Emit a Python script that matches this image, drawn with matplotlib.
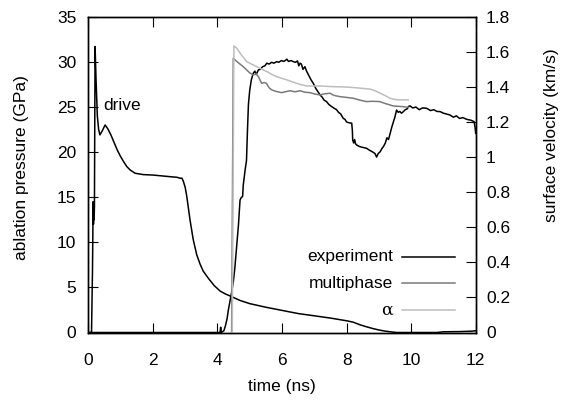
import matplotlib
matplotlib.use("Agg")
import matplotlib.pyplot as plt

plt.rcParams['font.family'] = ['Liberation Sans', 'DejaVu Sans']

# ablation pressure drive (GPa)
t_drive = [0.0, 0.1, 0.13, 0.15, 0.16, 0.17, 0.18, 0.19, 0.21, 0.24, 0.28, 0.32, 0.36,
           0.44, 0.52, 0.6, 0.7, 0.77, 0.9, 1.0, 1.1, 1.19, 1.3, 1.45, 1.7, 2.0, 2.3,
           2.53, 2.75, 2.84, 2.9, 2.94, 3.0, 3.05, 3.1, 3.15, 3.25, 3.36, 3.46, 3.56,
           3.72, 3.9, 4.08, 4.23, 4.44, 4.7, 5.0, 5.5, 6.0, 6.5, 7.0, 7.5, 8.0, 8.2, 8.42,
           8.6, 8.8, 9.0, 9.2, 9.4, 9.55, 10.0, 10.5, 10.8, 11.0, 11.5, 11.9, 12.0]
p_drive = [0.0, 0.0, 7.0, 14.5, 12.0, 13.5, 12.5, 14.0, 31.7, 28.0, 24.0, 22.5, 21.9,
           22.4, 23.0, 22.6, 21.9, 21.3, 20.2, 19.5, 18.9, 18.4, 18.0, 17.65, 17.5, 17.45, 17.35,
           17.27, 17.2, 17.1, 17.1, 16.8, 16.1, 15.1, 13.8, 12.5, 10.3, 8.6, 7.6, 6.8,
           6.0, 5.2, 4.6, 4.3, 3.97, 3.55, 3.2, 2.8, 2.45, 2.1, 1.85, 1.6, 1.3, 1.15, 0.85,
           0.65, 0.45, 0.28, 0.15, 0.06, 0.0, 0.0, 0.0, 0.0, 0.08, 0.1, 0.15, 0.2]

# surface velocity, experiment (km/s)
t_exp = [0.0, 4.0, 4.08, 4.1, 4.12, 4.2, 4.25, 4.3, 4.34, 4.4, 4.44, 4.5, 4.54, 4.58, 4.6,
         4.65, 4.68, 4.7, 4.74, 4.78, 4.8, 4.82, 4.86, 4.9, 4.93, 4.96, 5.0, 5.05, 5.11,
         5.16, 5.2, 5.27, 5.33, 5.4, 5.47, 5.53, 5.6, 5.68, 5.75, 5.84, 5.9, 5.98, 6.05,
         6.1, 6.15, 6.2, 6.28, 6.35, 6.42, 6.48, 6.52, 6.56, 6.6, 6.65, 6.71, 6.76, 6.82,
         6.9, 6.97, 7.05, 7.12, 7.18, 7.25, 7.3, 7.38, 7.45, 7.52, 7.6, 7.69, 7.75, 7.82,
         7.9, 7.95, 8.0, 8.08, 8.16, 8.18, 8.19, 8.22, 8.25, 8.28, 8.31, 8.4, 8.5, 8.62,
         8.7, 8.8, 8.88, 8.93, 8.98, 9.04, 9.1, 9.14, 9.2, 9.25, 9.3, 9.35, 9.4, 9.45,
         9.5, 9.55, 9.6, 9.65, 9.7, 9.76, 9.82, 9.88, 9.93, 9.97, 10.05, 10.15, 10.25,
         10.35, 10.48, 10.6, 10.7, 10.8, 10.9, 11.0, 11.1, 11.2, 11.31, 11.4, 11.5, 11.6,
         11.72, 11.85, 11.95, 11.98, 12.0]
v_exp = [0.0, 0.0, 0.0, 0.03, 0.0, 0.01, 0.04, 0.08, 0.13, 0.19, 0.23, 0.3, 0.37, 0.46, 0.51,
         0.61, 0.70, 0.755, 0.77, 0.775, 0.84, 0.87, 0.93, 0.98, 1.15, 1.30, 1.38, 1.44, 1.478,
         1.49, 1.47, 1.497, 1.50, 1.515, 1.52, 1.535, 1.53, 1.54, 1.535, 1.544, 1.54, 1.55, 1.545,
         1.55, 1.558, 1.545, 1.55, 1.544, 1.54, 1.548, 1.52, 1.535, 1.53, 1.50, 1.515, 1.49, 1.468,
         1.44, 1.42, 1.39, 1.37, 1.354, 1.34, 1.325, 1.316, 1.30, 1.29, 1.28, 1.27, 1.255, 1.245,
         1.22, 1.215, 1.2, 1.195, 1.193, 1.15, 1.097, 1.08, 1.1, 1.075, 1.069, 1.06, 1.055, 1.05,
         1.04, 1.03, 1.02, 1.0, 1.02, 1.03, 1.05, 1.059, 1.08, 1.11, 1.10, 1.136, 1.17, 1.2,
         1.23, 1.268, 1.255, 1.26, 1.25, 1.259, 1.27, 1.275, 1.29, 1.291, 1.28, 1.285, 1.27,
         1.28, 1.278, 1.265, 1.27, 1.26, 1.259, 1.25, 1.245, 1.24, 1.227, 1.235, 1.22, 1.225,
         1.215, 1.21, 1.202, 1.17, 1.135]

# surface velocity, multiphase model
t_mp = [4.43, 4.44, 4.49, 4.6, 4.8, 5.0, 5.11, 5.2, 5.27, 5.37, 5.45, 5.52, 5.6, 5.68,
        5.8, 5.99, 6.1, 6.25, 6.4, 6.56, 6.7, 6.87, 7.0, 7.18, 7.3, 7.49, 7.6, 7.8, 8.0,
        8.21, 8.4, 8.62, 8.8, 9.03, 9.2, 9.45, 9.7, 9.91]
v_mp = [0.0, 0.0, 1.563, 1.545, 1.515, 1.48, 1.468, 1.475, 1.458, 1.42, 1.425, 1.42, 1.395, 1.383,
        1.375, 1.367, 1.372, 1.378, 1.372, 1.378, 1.37, 1.367, 1.36, 1.354, 1.36, 1.364, 1.352, 1.344, 1.34,
        1.335, 1.325, 1.316, 1.318, 1.316, 1.305, 1.291, 1.288, 1.284]

# surface velocity, alpha model
t_al = [4.45, 4.46, 4.51, 4.6, 4.75, 4.91, 5.05, 5.22, 5.38, 5.53, 5.7, 5.84, 6.0, 6.15,
        6.3, 6.46, 6.6, 6.77, 7.0, 7.18, 7.4, 7.59, 7.85, 8.1, 8.4, 8.73, 8.9, 9.04, 9.2,
        9.35, 9.5, 9.66, 9.91]
v_al = [0.0, 0.0, 1.633, 1.62, 1.58, 1.544, 1.53, 1.515, 1.50, 1.487, 1.47, 1.458, 1.448, 1.44,
        1.43, 1.42, 1.412, 1.405, 1.405, 1.405, 1.403, 1.401, 1.40, 1.398, 1.393, 1.387, 1.377, 1.364, 1.35,
        1.335, 1.328, 1.326, 1.326]

W, H = 561, 408
fig = plt.figure(figsize=(W / 100, H / 100), dpi=100)
L, R, B, T = 88.3, 475.7, 332.5, 16.7
ax = fig.add_axes([L / W, 1 - B / H, (R - L) / W, (B - T) / H])
ax2 = ax.twinx()

fs = 12.5
ax.plot(t_drive, p_drive, color='black', lw=1.1)
ax.set_xlim(0, 12)
ax.set_ylim(0, 35)
ax.set_xticks([0, 2, 4, 6, 8, 10, 12])
ax.set_yticks([0, 5, 10, 15, 20, 25, 30, 35])
ax.tick_params(axis='x', direction='in', length=7.5, width=0.8, top=True, labelsize=fs, pad=14.5)
ax.tick_params(axis='y', direction='in', length=7.5, width=0.8, labelsize=fs, pad=8.5)

l1, = ax2.plot(t_exp, v_exp, color='black', lw=1.1)
l2, = ax2.plot(t_mp, v_mp, color='#7a7a7a', lw=1.1)
l3, = ax2.plot(t_al, v_al, color='#bdbdbd', lw=1.1)
ax2.set_ylim(0, 1.8)
ax2.set_yticks([0, 0.2, 0.4, 0.6, 0.8, 1.0, 1.2, 1.4, 1.6, 1.8])
ax2.set_yticklabels(['0', '0.2', '0.4', '0.6', '0.8', '1', '1.2', '1.4', '1.6', '1.8'])
ax2.tick_params(axis='y', direction='in', length=7.5, width=0.8, labelsize=fs, pad=7.5)

for a in (ax, ax2):
    for s in a.spines.values():
        s.set_linewidth(1.0)

ax.text(0.46, 25.2, 'drive', fontsize=fs, ha='left', va='center')

# legend (gnuplot-style, right-aligned labels)
leg_labels = ['experiment', 'multiphase', 'α']
leg_lines = [l1, l2, l3]
rows_y = [256.7, 283.3, 310.0]
for lab, ln, yy in zip(leg_labels, leg_lines, rows_y):
    fam = ['DejaVu Serif'] if lab == 'α' else ['Liberation Sans', 'DejaVu Sans']
    fig.text(393 / W, 1 - yy / H, lab, fontsize=fs, ha='right', va='center', family=fam)
    fig.add_artist(plt.Line2D([402 / W, 455 / W], [1 - yy / H, 1 - yy / H],
                              color=ln.get_color(), lw=1.1))

fig.text(21.7 / W, 1 - 168 / H, 'ablation pressure (GPa)', rotation=90, fontsize=fs,
         ha='center', va='center')
fig.text(551.7 / W, 1 - 135 / H, 'surface velocity (km/s)', rotation=90, fontsize=fs,
         ha='center', va='center')
fig.text(282 / W, 1 - 386 / H, 'time (ns)', fontsize=fs, ha='center', va='center')

fig.savefig('out.png', dpi=100)
